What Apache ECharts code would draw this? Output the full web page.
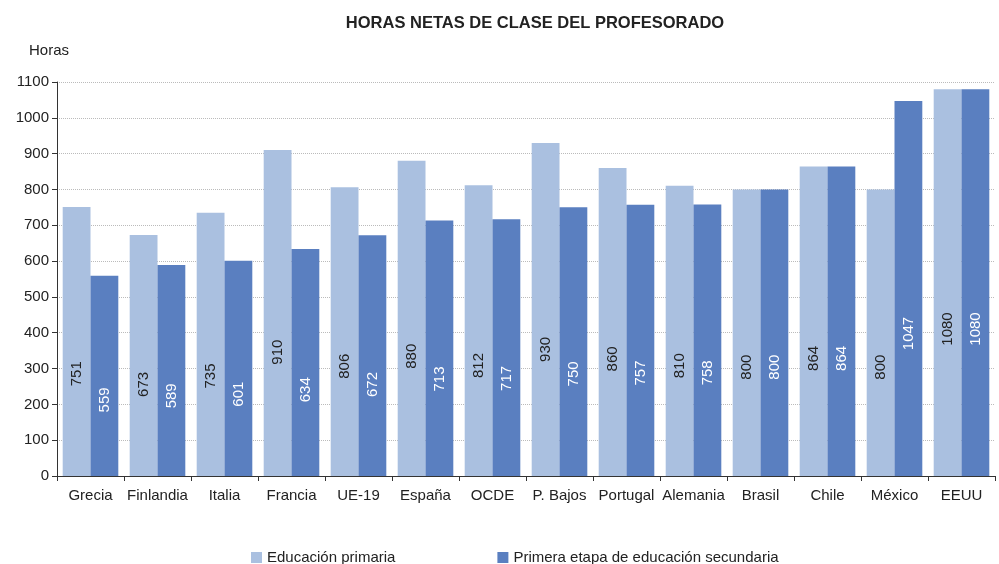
<!DOCTYPE html>
<html>
<head>
<meta charset="utf-8">
<script src="https://cdn.jsdelivr.net/npm/echarts@6/dist/echarts.min.js"></script>
<style>
  html, body { margin: 0; padding: 0; background: #fff; }
  #main { width: 999px; height: 564px; }
</style>
</head>
<body>
<div id="main"></div>
<script>
var paises = ['Grecia', 'Finlandia', 'Italia', 'Francia', 'UE-19', 'España', 'OCDE', 'P. Bajos', 'Portugal', 'Alemania', 'Brasil', 'Chile', 'México', 'EEUU'];
var primaria = [751, 673, 735, 910, 806, 880, 812, 930, 860, 810, 800, 864, 800, 1080];
var secundaria = [559, 589, 601, 634, 672, 713, 717, 750, 757, 758, 800, 864, 1047, 1080];

var myChart = echarts.init(document.getElementById('main'));
var fuente = 'Liberation Sans';

function etiqueta(color) {
  return {
    show: true,
    rotate: 90,
    position: ['50%', '62%'],
    align: 'center',
    verticalAlign: 'middle',
    color: color,
    fontSize: 15,
    fontFamily: fuente
  };
}

var option = {
  animation: false,
  title: {
    text: 'HORAS NETAS DE CLASE DEL PROFESORADO',
    left: 530,
    textAlign: 'center',
    top: 10,
    textStyle: { fontSize: 16.5, fontWeight: 'bold', color: '#222', fontFamily: fuente }
  },
  legend: {
    data: ['Educación primaria', 'Primera etapa de educación secundaria'],
    top: 545,
    left: 246,
    itemGap: 102,
    itemWidth: 11,
    itemHeight: 11,
    icon: 'rect',
    textStyle: { fontSize: 15, color: '#222', fontFamily: fuente }
  },
  grid: { left: 57, right: 4, top: 82, bottom: 88 },
  xAxis: {
    type: 'category',
    data: paises,
    axisLine: { lineStyle: { color: '#333' } },
    axisTick: { show: true, alignWithLabel: false, length: 5, lineStyle: { color: '#333' } },
    axisLabel: { fontSize: 15, color: '#222', fontFamily: fuente, margin: 12, interval: 0 }
  },
  yAxis: {
    type: 'value',
    name: 'Horas',
    nameLocation: 'end',
    nameGap: 24,
    nameTextStyle: { fontSize: 15, color: '#222', fontFamily: fuente, align: 'right', padding: [0, -12, 0, 0] },
    min: 0,
    max: 1100,
    interval: 100,
    axisLine: { show: true, lineStyle: { color: '#333' } },
    axisTick: { show: true, length: 5, lineStyle: { color: '#333' } },
    axisLabel: { fontSize: 15, color: '#222', fontFamily: fuente, margin: 8, formatter: function (v) { return String(v); } },
    splitLine: { lineStyle: { color: '#bbb', type: 'dotted' } }
  },
  series: [
    {
      name: 'Educación primaria',
      type: 'bar',
      data: primaria,
      barGap: '0%',
      barCategoryGap: '17%',
      itemStyle: { color: '#aac0e0' },
      label: etiqueta('#222')
    },
    {
      name: 'Primera etapa de educación secundaria',
      type: 'bar',
      data: secundaria,
      itemStyle: { color: '#5a7fc0' },
      label: etiqueta('#fff')
    }
  ]
};

myChart.setOption(option);
</script>
</body>
</html>
